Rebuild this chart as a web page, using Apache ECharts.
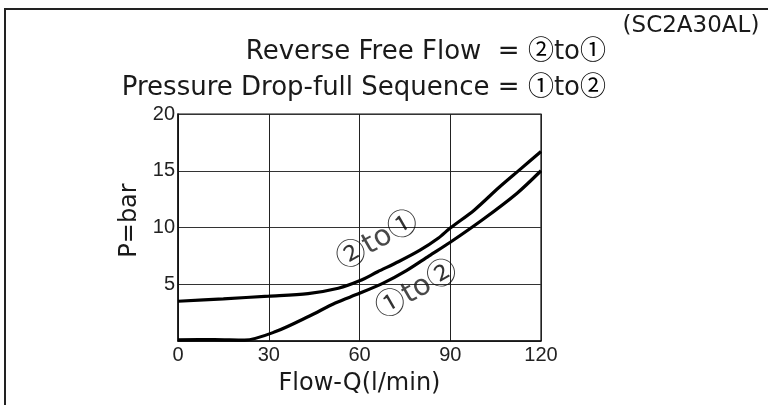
<!DOCTYPE html>
<html><head><meta charset="utf-8">
<script src="https://cdn.jsdelivr.net/npm/echarts@6/dist/echarts.min.js"></script>
<style>
html,body{margin:0;padding:0;background:#fff;}
#wrap{position:relative;width:768px;height:405px;overflow:hidden;}
#chart{position:absolute;left:0;top:0;width:768px;height:405px;}
#frame{position:absolute;left:4px;top:8px;width:900px;height:600px;border-top:2px solid #222;border-left:2px solid #222;pointer-events:none;}
</style></head><body>
<div id="wrap"><div id="chart"></div><div id="frame"></div></div>
<script>
// ---- data ----
const titleLines = ['Reverse Free Flow  = \u2461to\u2460', 'Pressure Drop-full Sequence = \u2460to\u2461'];
const modelCode = '(SC2A30AL)';
const xName = 'Flow-Q(l/min)';
const yName = 'P=bar';
const xTicks = [0, 30, 60, 90, 120];
const yTicks = [0, 5, 10, 15, 20];
// Reverse free flow (2 to 1)
const reverseFlowQ = [0, 15, 30, 43, 53, 60, 66, 73, 80, 86, 90, 98, 106, 113, 120];
const reverseFlowP = [3.5, 3.72, 3.95, 4.18, 4.65, 5.3, 6.1, 7.0, 8.0, 9.05, 9.95, 11.55, 13.5, 15.1, 16.7];
// Pressure drop full sequence (1 to 2)
const sequenceQ = [0, 12, 22, 32.5, 43.5, 52, 60, 68, 75.5, 83, 90, 101, 112, 120];
const sequenceP = [0.1, 0.12, 0.08, 0.85, 2.2, 3.35, 4.2, 5.12, 6.2, 7.5, 8.7, 10.75, 13.0, 15.0];
// curve annotations (data coordinates)
const curveLabelText = ['\u2461to\u2460', '\u2460to\u2461'];
const curveLabelQ = [66, 79];
const curveLabelP = [8.84, 4.49];

const FONT = '"DejaVu Sans", sans-serif';
const CJK = '"Noto Sans CJK SC", sans-serif';
const TICKFONT = '"Liberation Sans", Arial, sans-serif';
const INK = '#1a1a1a';

// wrap circled digits into a rich-text style so they use a font with large circles
function richify(s) {
  let out = '', buf = '';
  for (const ch of s) {
    if (/[\u2460-\u2473]/.test(ch)) {
      if (buf) { out += '{t|' + buf + '}'; buf = ''; }
      out += '{c|' + ch + '}';
    } else buf += ch;
  }
  if (buf) out += '{t|' + buf + '}';
  return out;
}
function richStyles(size, circ, lift) {
  return {
    t: {fontSize: size, fontFamily: FONT, fill: INK, color: INK},
    c: {fontSize: circ, fontFamily: CJK, fill: '#000', color: '#000', padding: [0, 0, lift, 0]}
  };
}

const chart = echarts.init(document.getElementById('chart'), null, {renderer: 'canvas'});
const zip = (a, b) => a.map((v, i) => [v, b[i]]);

chart.setOption({
  animation: false,
  backgroundColor: 'transparent',
  grid: {left: 178, right: 227, top: 114, bottom: 64, show: true, borderColor: '#111', borderWidth: 1.2, containLabel: false},
  xAxis: {
    type: 'value', min: xTicks[0], max: xTicks[xTicks.length - 1], interval: xTicks[1] - xTicks[0],
    axisLine: {show: true, lineStyle: {color: '#111', width: 1.5}},
    axisTick: {show: false},
    axisLabel: {fontSize: 20, fontFamily: TICKFONT, color: '#222', margin: 4},
    splitLine: {show: true, lineStyle: {color: '#222', width: 1}},
    name: xName, nameLocation: 'middle', nameGap: 31,
    nameTextStyle: {fontSize: 24, fontFamily: FONT, color: INK}
  },
  yAxis: {
    type: 'value', min: yTicks[0], max: yTicks[yTicks.length - 1], interval: yTicks[1] - yTicks[0],
    axisLine: {show: true, lineStyle: {color: '#111', width: 1.5}},
    axisTick: {show: false},
    axisLabel: {fontSize: 20, fontFamily: TICKFONT, color: '#222', margin: 3, showMinLabel: false},
    splitLine: {show: true, lineStyle: {color: '#333', width: 1}},
    name: yName, nameLocation: 'middle', nameGap: 36, nameRotate: 90,
    nameTextStyle: {fontSize: 24, fontFamily: FONT, color: INK, padding: [0, 0, 0, 14]}
  },
  graphic: [
    {type: 'text', x: 606, y: 52, style: {text: richify(titleLines[0]), rich: richStyles(26, 26, 6), fontSize: 26, fontFamily: FONT, fill: INK, align: 'right', verticalAlign: 'middle'}},
    {type: 'text', x: 606, y: 88, style: {text: richify(titleLines[1]), rich: richStyles(26, 26, 6), fontSize: 26, fontFamily: FONT, fill: INK, align: 'right', verticalAlign: 'middle'}},
    {type: 'text', x: 691, y: 26, style: {text: modelCode, fontSize: 23, fontFamily: FONT, fill: INK, align: 'center', verticalAlign: 'middle'}}
  ],
  series: [
    {type: 'line', data: zip(reverseFlowQ, reverseFlowP), smooth: 0.3, symbol: 'none', lineStyle: {color: '#000', width: 3.2}, z: 5},
    {type: 'line', data: zip(sequenceQ, sequenceP), smooth: 0.3, symbol: 'none', lineStyle: {color: '#000', width: 3.2}, z: 5},
    {type: 'scatter', symbolSize: 2, itemStyle: {color: 'rgba(0,0,0,0)'}, z: 6, silent: true,
      data: curveLabelText.map((t, i) => ({name: t, value: [curveLabelQ[i], curveLabelP[i]]})),
      label: {show: true, position: 'inside', rotate: 30, formatter: p => richify(p.name),
        rich: richStyles(29, 30, 6), fontSize: 29, fontFamily: FONT, color: INK}}
  ]
});
</script>
</body></html>
